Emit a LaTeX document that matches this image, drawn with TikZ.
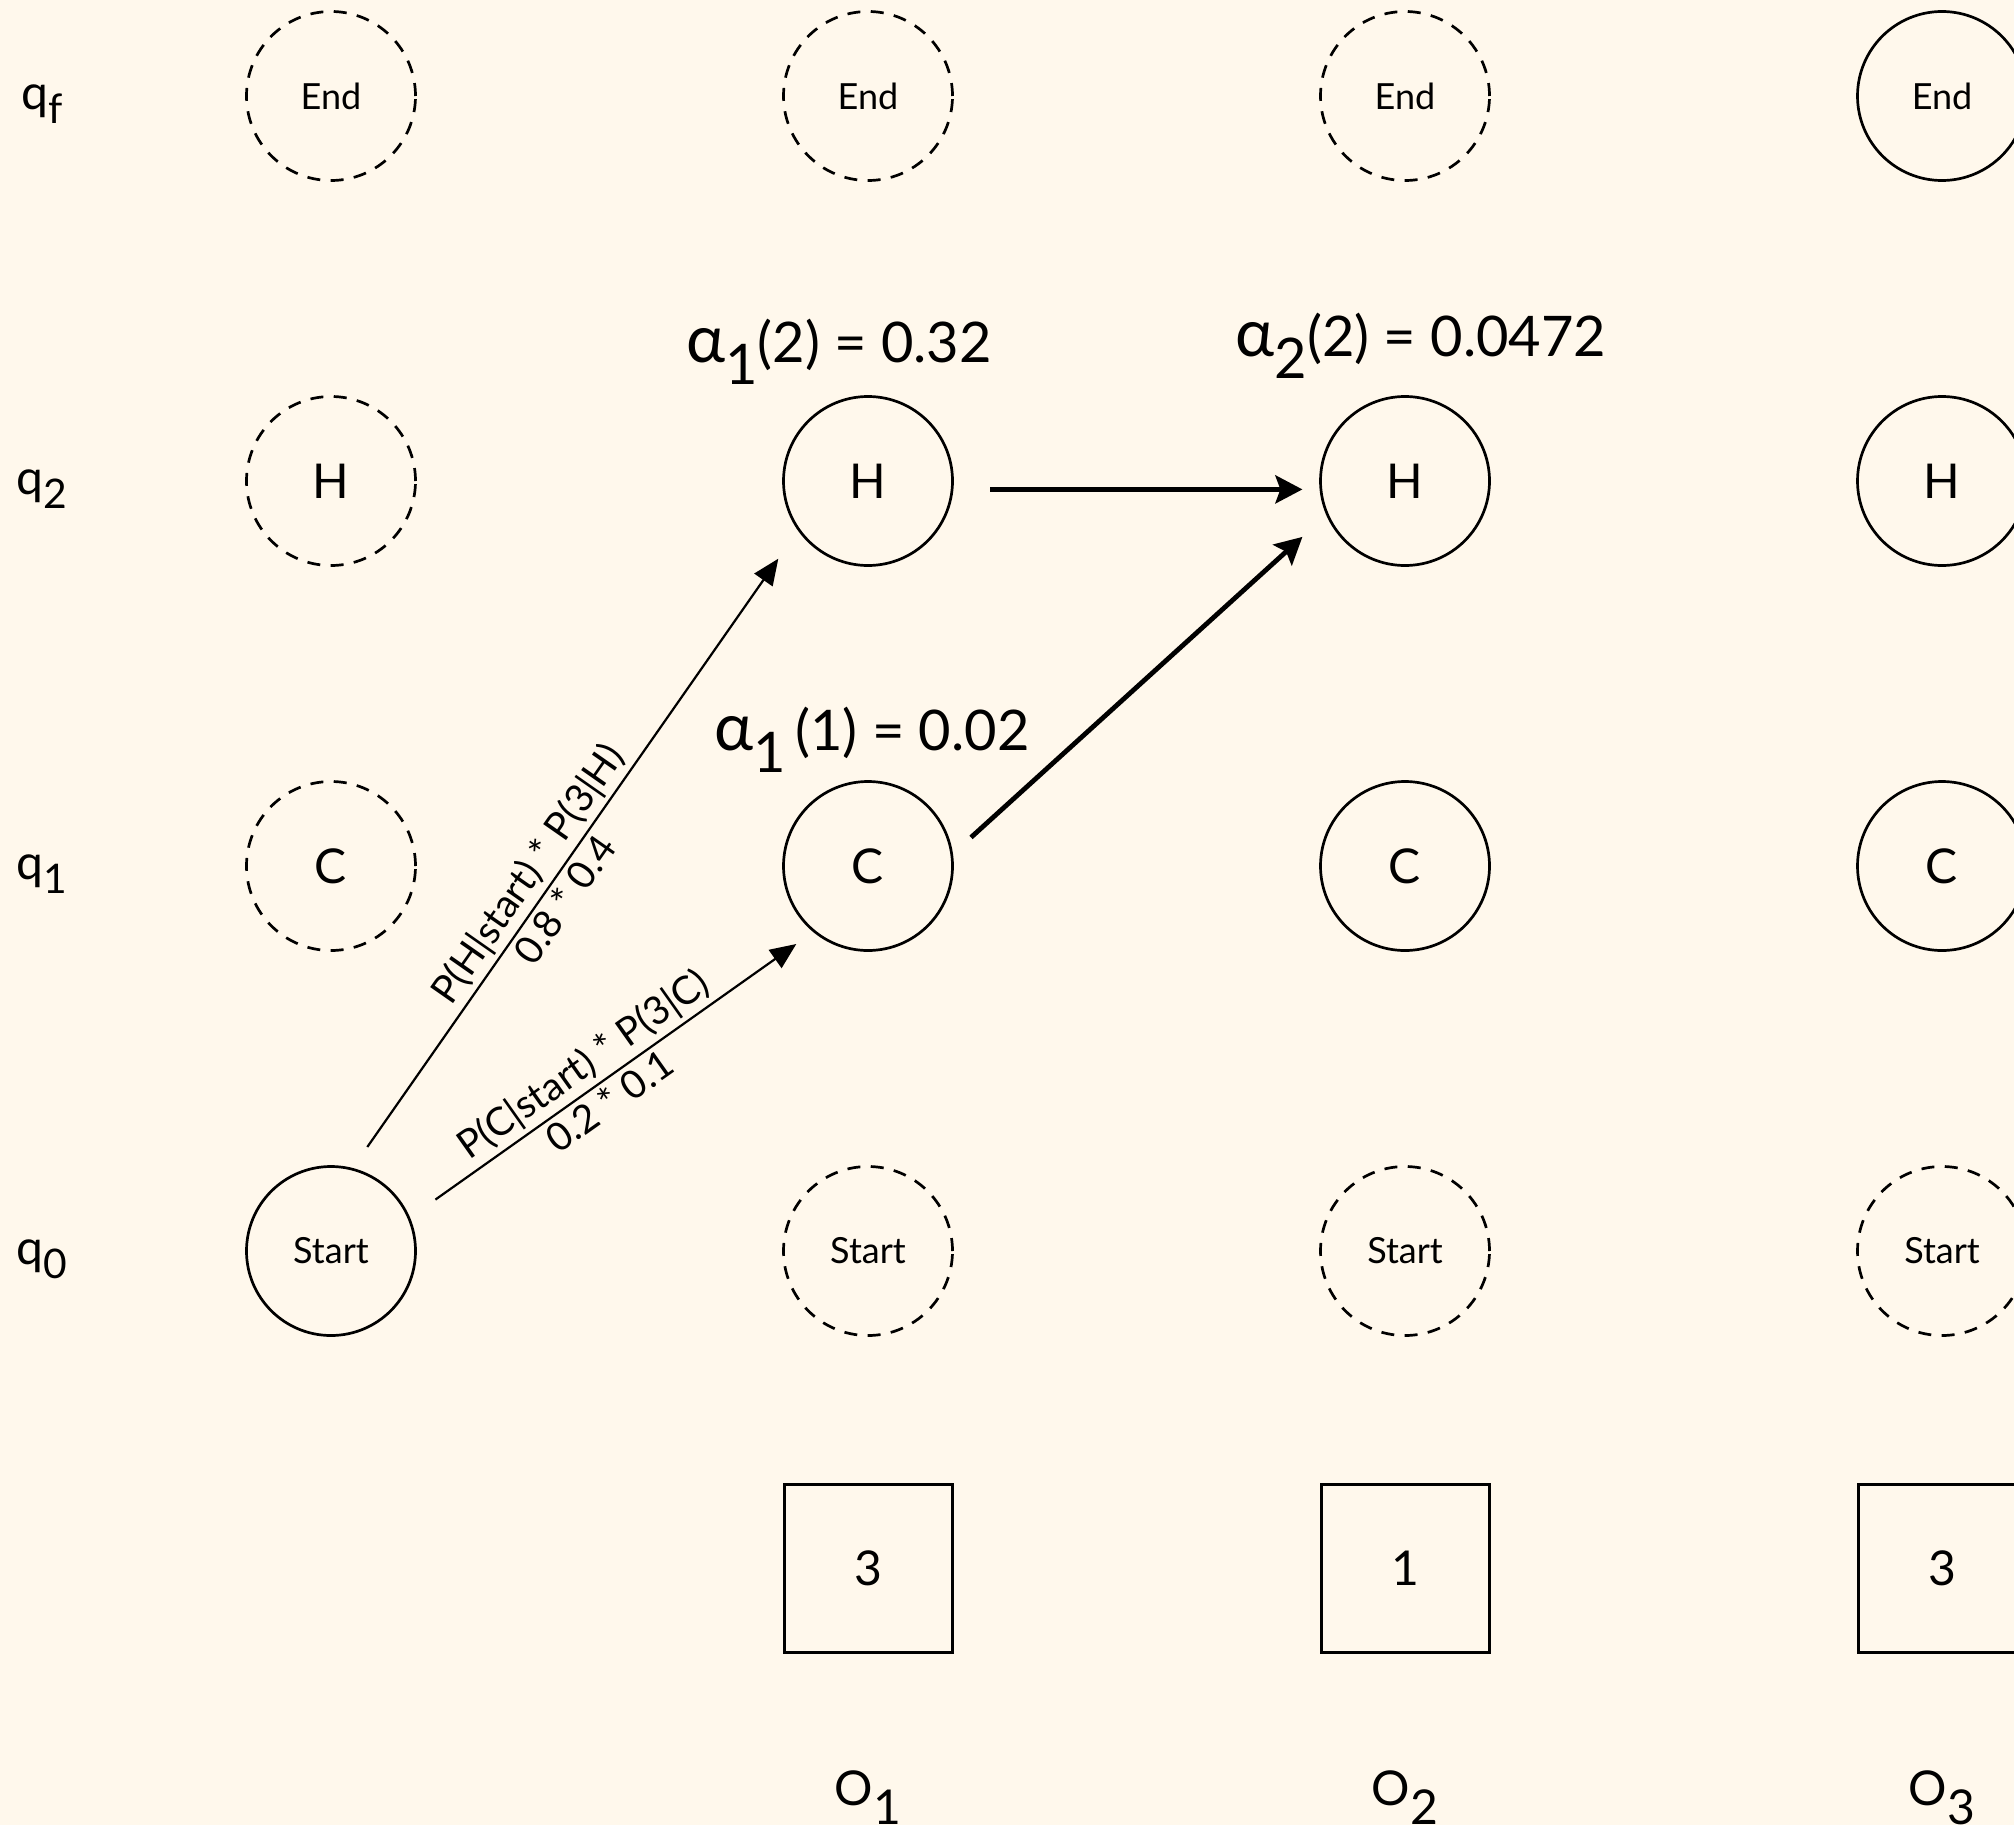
\documentclass[tikz,border=0pt]{standalone}
\usepackage{fontspec}
\usepackage{graphicx}
\setmainfont{Lato}
\usetikzlibrary{arrows.meta}
\definecolor{paper}{HTML}{FFF8EC}
% subscripts set low, nearly full size
\newcommand\dn[1]{\raisebox{-0.4em}{#1}}
\newcommand\qsub[1]{\raisebox{-0.3em}{\scalebox{0.85}{#1}}}
\newcommand\greekalpha{{\fontsize{33}{33}\selectfont α}}

\begin{document}
\begin{tikzpicture}[x=0.5pt,y=-0.5pt,
  state/.style={circle, draw, line width=1.35pt, minimum size=84.5pt, inner sep=0pt,
                font=\fontsize{24}{24}\selectfont},
  ghost/.style={state, dash pattern=on 6.5pt off 5.2pt},
  smalltxt/.style={font=\fontsize{18}{18}\selectfont},
  obsbox/.style={rectangle, draw, line width=1.5pt, minimum size=84pt, inner sep=0pt,
                 font=\fontsize{24}{24}\selectfont},
  rowlabel/.style={font=\fontsize{24}{24}\selectfont},
  alphalabel/.style={anchor=base, font=\fontsize{28}{28}\selectfont},
  thinarrow/.style={line width=1.1pt, -{Triangle[length=13pt,width=11pt]}},
  boldarrow/.style={line width=2.4pt, -{Stealth[length=13.5pt,width=14pt,inset=2.5pt]}},
  elabel/.style={sloped, inner sep=2pt, font=\fontsize{19.5}{19.5}\selectfont},
]
\fill[paper] (0,0) rectangle (2014,1825);
\useasboundingbox (0,0) rectangle (2014,1825);
\clip (0,0) rectangle (2014,1825);

% row labels
\node[rowlabel] (lqf) at (42,104) {q\qsub{f}};
\node[rowlabel] (lq2) at (42,489) {q\qsub{2}};
\node[rowlabel] (lq1) at (42,874) {q\qsub{1}};
\node[rowlabel] (lq0) at (42,1259) {q\qsub{0}};

% column 0
\node[ghost, smalltxt] (end0) at (331,96) {End};
\node[ghost] (h0) at (331,481) {H};
\node[ghost] (c0) at (331,866) {C};
\node[state, smalltxt] (start) at (331,1251) {Start};

% column 1
\node[ghost, smalltxt] (end1) at (868,96) {End};
\node[state] (h1) at (868,481) {H};
\node[state] (c1) at (868,866) {C};
\node[ghost, smalltxt] (start1) at (868,1251) {Start};

% column 2
\node[ghost, smalltxt] (end2) at (1405,96) {End};
\node[state] (h2) at (1405,481) {H};
\node[state] (c2) at (1405,866) {C};
\node[ghost, smalltxt] (start2) at (1405,1251) {Start};

% column 3
\node[state, smalltxt] (end3) at (1942,96) {End};
\node[state] (h3) at (1942,481) {H};
\node[state] (c3) at (1942,866) {C};
\node[ghost, smalltxt] (start3) at (1942,1251) {Start};

% observations
\node[obsbox] (o1) at (868,1568) {3};
\node[obsbox] (o2) at (1405,1568) {1};
\node[obsbox] (o3) at (1942,1568) {3};
\node[rowlabel, anchor=base] (lo1) at (868,1805) {O\dn{1}};
\node[rowlabel, anchor=base] (lo2) at (1405,1805) {O\dn{2}};
\node[rowlabel, anchor=base] (lo3) at (1942,1805) {O\dn{3}};

% forward values
\node[alphalabel] (a12) at (839,362) {\greekalpha\dn{1}(2) = 0.32};
\node[alphalabel] (a22) at (1421,356) {\greekalpha\dn{2}(2) = 0.0472};
\node[alphalabel] (a11) at (872,750) {\greekalpha\dn{1}\,(1) = 0.02};

% transitions
\draw[thinarrow] ([shift={(36.3,-104)}]start.center) -- ([shift={(-89.7,77.7)}]h1.center)
  node[elabel, pos=0.44, above] {P(H|start) * P(3|H)}
  node[elabel, pos=0.44, below] {0.8 * 0.4};
\draw[thinarrow] ([shift={(104.4,-51.4)}]start.center) -- ([shift={(-71.7,78)}]c1.center)
  node[elabel, pos=0.45, above] {P(C|start) * P(3|C)}
  node[elabel, pos=0.45, below] {0.2 * 0.1};
\draw[boldarrow] ([shift={(103,-28.6)}]c1.center) -- ([shift={(-102.6,55.9)}]h2.center);
\draw[boldarrow] ([shift={(122.3,8.4)}]h1.center) -- ([shift={(-102.6,8.4)}]h2.center);
\end{tikzpicture}
\end{document}
